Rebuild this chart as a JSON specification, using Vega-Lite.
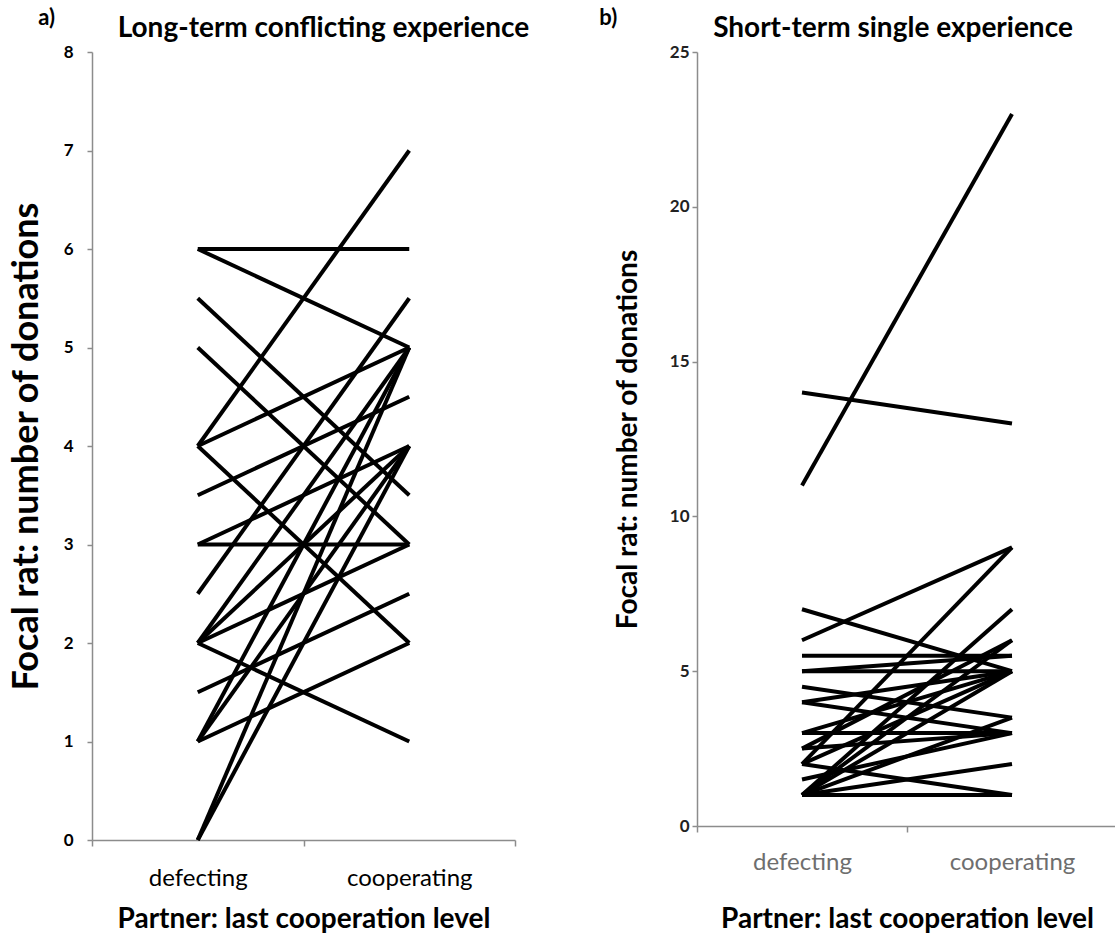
{
  "$schema": "https://vega.github.io/schema/vega-lite/v6.json",
  "background": "white",
  "padding": {"left": 8, "top": 7, "right": 0, "bottom": 0},
  "config": {
    "font": "Lato",
    "view": {"stroke": null},
    "axis": {"grid": false, "domainColor": "#8c8c8c", "tickColor": "#8c8c8c", "domainWidth": 1.5, "tickWidth": 1.5, "titleFont": "Lato", "labelFont": "Lato"},
    "title": {"font": "Lato", "fontWeight": "bold", "color": "black"}
  },
  "datasets": {
    "a": [
      {"id": 1, "partner": "defecting", "donations": 6}, {"id": 1, "partner": "cooperating", "donations": 6},
      {"id": 2, "partner": "defecting", "donations": 6}, {"id": 2, "partner": "cooperating", "donations": 5},
      {"id": 3, "partner": "defecting", "donations": 5.5}, {"id": 3, "partner": "cooperating", "donations": 3.5},
      {"id": 4, "partner": "defecting", "donations": 5}, {"id": 4, "partner": "cooperating", "donations": 3},
      {"id": 5, "partner": "defecting", "donations": 4}, {"id": 5, "partner": "cooperating", "donations": 7},
      {"id": 6, "partner": "defecting", "donations": 4}, {"id": 6, "partner": "cooperating", "donations": 5},
      {"id": 7, "partner": "defecting", "donations": 4}, {"id": 7, "partner": "cooperating", "donations": 2},
      {"id": 8, "partner": "defecting", "donations": 3.5}, {"id": 8, "partner": "cooperating", "donations": 4.5},
      {"id": 9, "partner": "defecting", "donations": 3}, {"id": 9, "partner": "cooperating", "donations": 3},
      {"id": 10, "partner": "defecting", "donations": 3}, {"id": 10, "partner": "cooperating", "donations": 4},
      {"id": 11, "partner": "defecting", "donations": 2.5}, {"id": 11, "partner": "cooperating", "donations": 5.5},
      {"id": 12, "partner": "defecting", "donations": 2}, {"id": 12, "partner": "cooperating", "donations": 5},
      {"id": 13, "partner": "defecting", "donations": 2}, {"id": 13, "partner": "cooperating", "donations": 4},
      {"id": 14, "partner": "defecting", "donations": 2}, {"id": 14, "partner": "cooperating", "donations": 3},
      {"id": 15, "partner": "defecting", "donations": 2}, {"id": 15, "partner": "cooperating", "donations": 1},
      {"id": 16, "partner": "defecting", "donations": 1.5}, {"id": 16, "partner": "cooperating", "donations": 2.5},
      {"id": 17, "partner": "defecting", "donations": 1}, {"id": 17, "partner": "cooperating", "donations": 2},
      {"id": 18, "partner": "defecting", "donations": 1}, {"id": 18, "partner": "cooperating", "donations": 4},
      {"id": 19, "partner": "defecting", "donations": 1}, {"id": 19, "partner": "cooperating", "donations": 5},
      {"id": 20, "partner": "defecting", "donations": 0}, {"id": 20, "partner": "cooperating", "donations": 4},
      {"id": 21, "partner": "defecting", "donations": 0}, {"id": 21, "partner": "cooperating", "donations": 5}
    ],
    "b": [
      {"id": 1, "partner": "defecting", "donations": 11}, {"id": 1, "partner": "cooperating", "donations": 23},
      {"id": 2, "partner": "defecting", "donations": 14}, {"id": 2, "partner": "cooperating", "donations": 13},
      {"id": 3, "partner": "defecting", "donations": 6}, {"id": 3, "partner": "cooperating", "donations": 9},
      {"id": 4, "partner": "defecting", "donations": 7}, {"id": 4, "partner": "cooperating", "donations": 5},
      {"id": 5, "partner": "defecting", "donations": 5.5}, {"id": 5, "partner": "cooperating", "donations": 5.5},
      {"id": 6, "partner": "defecting", "donations": 5}, {"id": 6, "partner": "cooperating", "donations": 5.5},
      {"id": 7, "partner": "defecting", "donations": 5}, {"id": 7, "partner": "cooperating", "donations": 5},
      {"id": 8, "partner": "defecting", "donations": 4.5}, {"id": 8, "partner": "cooperating", "donations": 3.5},
      {"id": 9, "partner": "defecting", "donations": 4}, {"id": 9, "partner": "cooperating", "donations": 3},
      {"id": 10, "partner": "defecting", "donations": 4}, {"id": 10, "partner": "cooperating", "donations": 5},
      {"id": 11, "partner": "defecting", "donations": 3}, {"id": 11, "partner": "cooperating", "donations": 3},
      {"id": 12, "partner": "defecting", "donations": 3}, {"id": 12, "partner": "cooperating", "donations": 5},
      {"id": 13, "partner": "defecting", "donations": 2.5}, {"id": 13, "partner": "cooperating", "donations": 6},
      {"id": 14, "partner": "defecting", "donations": 2.5}, {"id": 14, "partner": "cooperating", "donations": 3},
      {"id": 15, "partner": "defecting", "donations": 2}, {"id": 15, "partner": "cooperating", "donations": 9},
      {"id": 16, "partner": "defecting", "donations": 2}, {"id": 16, "partner": "cooperating", "donations": 5},
      {"id": 17, "partner": "defecting", "donations": 2}, {"id": 17, "partner": "cooperating", "donations": 1},
      {"id": 18, "partner": "defecting", "donations": 1.5}, {"id": 18, "partner": "cooperating", "donations": 3},
      {"id": 19, "partner": "defecting", "donations": 1}, {"id": 19, "partner": "cooperating", "donations": 7},
      {"id": 20, "partner": "defecting", "donations": 1}, {"id": 20, "partner": "cooperating", "donations": 6},
      {"id": 21, "partner": "defecting", "donations": 1}, {"id": 21, "partner": "cooperating", "donations": 5},
      {"id": 22, "partner": "defecting", "donations": 1}, {"id": 22, "partner": "cooperating", "donations": 3.5},
      {"id": 23, "partner": "defecting", "donations": 1}, {"id": 23, "partner": "cooperating", "donations": 2},
      {"id": 24, "partner": "defecting", "donations": 1}, {"id": 24, "partner": "cooperating", "donations": 1}
    ]
  },
  "spacing": 69,
  "hconcat": [
    {
      "title": {"text": "a)", "anchor": "start", "frame": "bounds", "fontSize": 22, "dx": 30, "offset": -15},
      "vconcat": [
        {
          "title": {"text": "Long-term conflicting experience", "fontSize": 28, "offset": 0, "dx": 20},
          "width": 423,
          "height": 788,
          "data": {"name": "a"},
          "mark": {"type": "line", "color": "black", "strokeWidth": 4},
          "encoding": {
            "x": {"field": "partner", "type": "nominal", "sort": ["defecting", "cooperating"],
                  "scale": {"type": "band", "paddingInner": 0, "paddingOuter": 0},
                  "axis": {"title": "Partner: last cooperation level", "labelAngle": 0, "labelFontSize": 24, "labelColor": "black", "labelPadding": 20, "tickBand": "extent", "tickSize": 6, "titleFontSize": 28, "titleFontWeight": "bold", "titleColor": "black", "titlePadding": 15}},
            "y": {"field": "donations", "type": "quantitative",
                  "scale": {"domain": [0, 8], "nice": false},
                  "axis": {"title": "Focal rat: number of donations", "values": [0, 1, 2, 3, 4, 5, 6, 7, 8], "labelFontSize": 17, "labelFontWeight": "bold", "labelColor": "black", "labelPadding": 14, "tickSize": 5, "titleFontSize": 36, "titleFontWeight": "bold", "titleColor": "black", "titlePadding": 18}},
            "detail": {"field": "id", "type": "nominal"}
          }
        }
      ]
    },
    {
      "title": {"text": "b)", "anchor": "start", "frame": "bounds", "fontSize": 22, "dx": -15, "offset": -15},
      "vconcat": [
        {
          "title": {"text": "Short-term single experience", "fontSize": 28, "offset": 0, "dx": -14},
          "width": 420,
          "height": 774,
          "data": {"name": "b"},
          "mark": {"type": "line", "color": "black", "strokeWidth": 4},
          "encoding": {
            "x": {"field": "partner", "type": "nominal", "sort": ["defecting", "cooperating"],
                  "scale": {"type": "band", "paddingInner": 0, "paddingOuter": 0},
                  "axis": {"title": "Partner: last cooperation level", "labelAngle": 0, "labelFontSize": 24, "labelColor": "#6e6e6e", "labelPadding": 18, "tickBand": "extent", "tickSize": 6, "titleFontSize": 28, "titleFontWeight": "bold", "titleColor": "black", "titlePadding": 31}},
            "y": {"field": "donations", "type": "quantitative",
                  "scale": {"domain": [0, 25], "nice": false},
                  "axis": {"title": "Focal rat: number of donations", "values": [0, 5, 10, 15, 20, 25], "labelFontSize": 17, "labelFontWeight": "bold", "labelColor": "#222222", "labelPadding": 3, "tickSize": 5, "titleFontSize": 28, "titleFontWeight": "bold", "titleColor": "black", "titlePadding": 27}},
            "detail": {"field": "id", "type": "nominal"}
          }
        }
      ]
    }
  ]
}
